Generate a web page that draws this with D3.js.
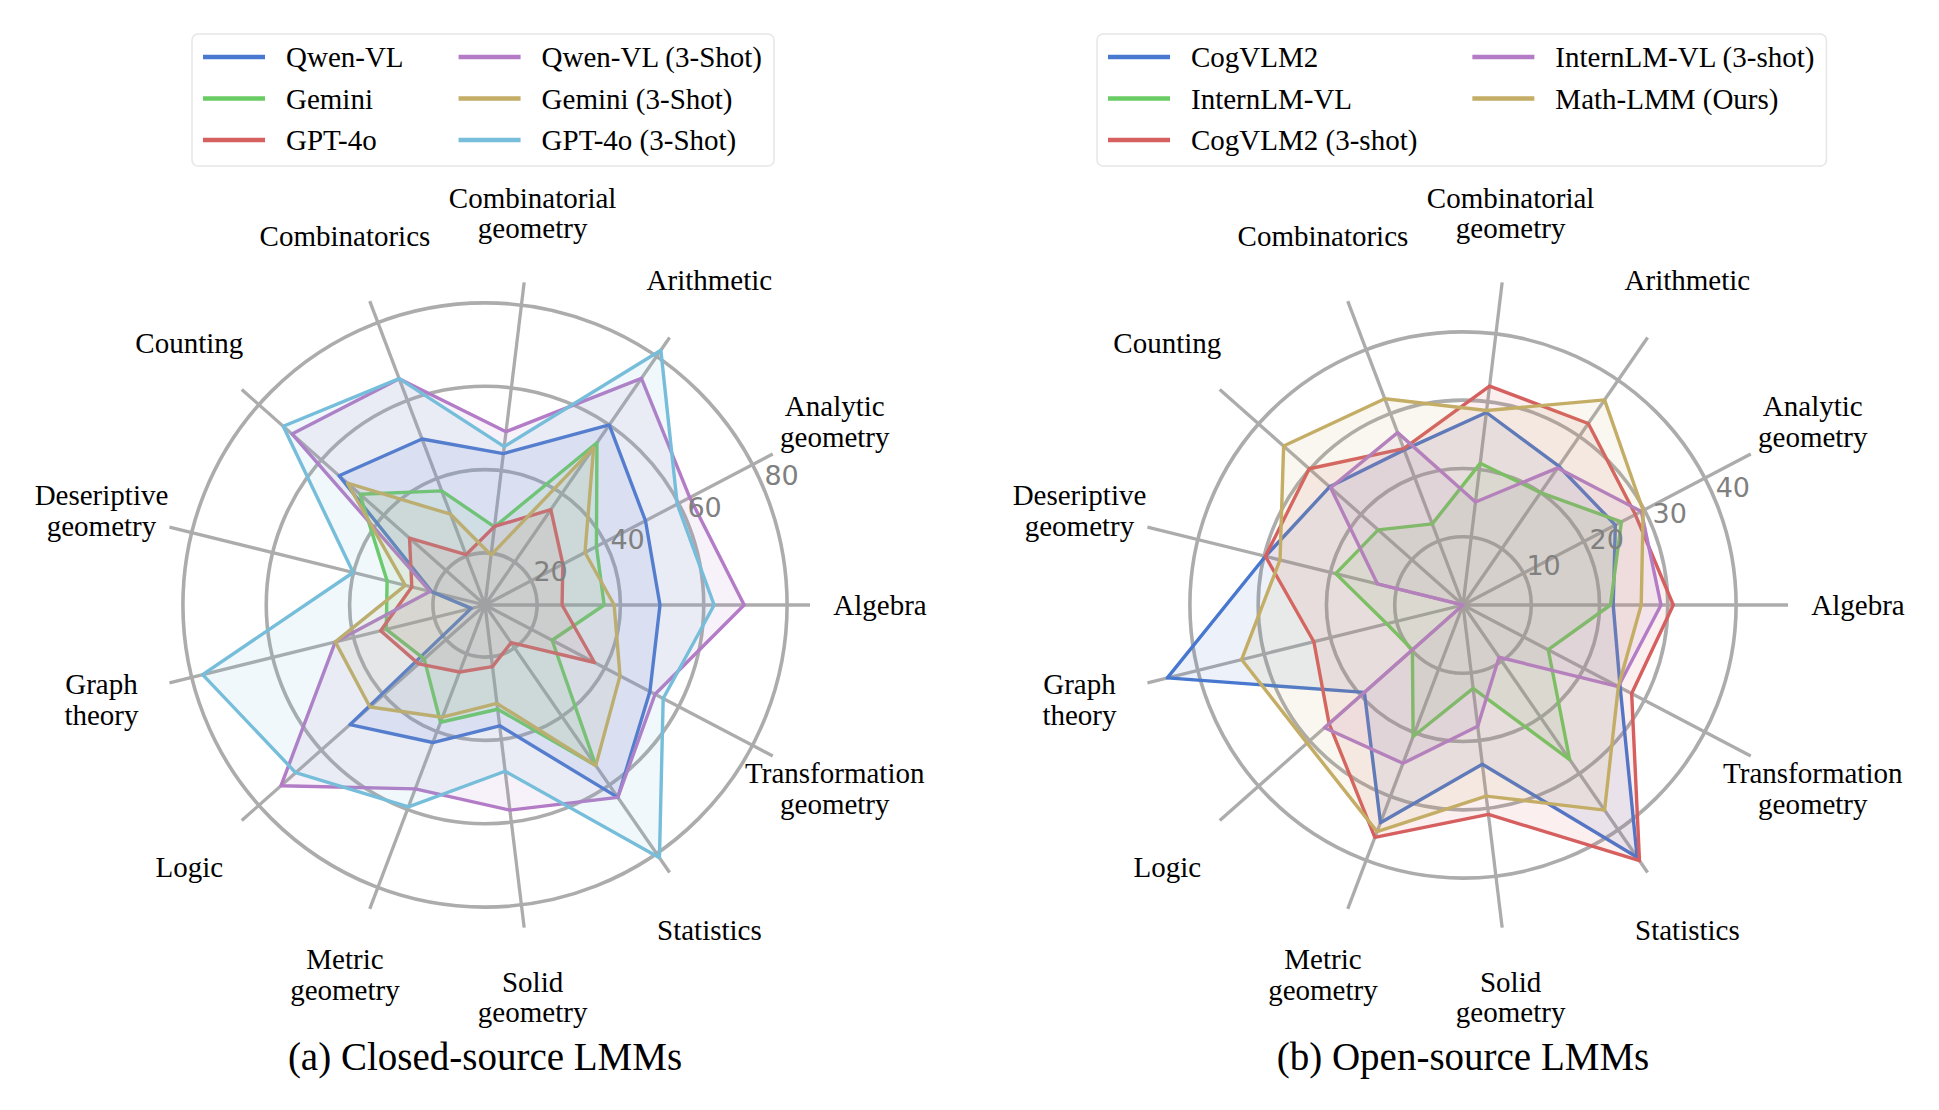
<!DOCTYPE html>
<html>
<head>
<meta charset="utf-8">
<script src="https://cdn.jsdelivr.net/npm/d3@7"></script>
<style>
  body { margin: 0; background: #fff; }
  svg { display: block; font-family: "Liberation Serif", "Times New Roman", serif; }
</style>
</head>
<body>
<svg id="chart" width="1939" height="1110"></svg>
<script>
// axis categories (line breaks as in the figure)
var categories = ["Algebra", "Analytic\ngeometry", "Arithmetic", "Combinatorial\ngeometry",
  "Combinatorics", "Counting", "Deseriptive\ngeometry", "Graph\ntheory", "Logic",
  "Metric\ngeometry", "Solid\ngeometry", "Statistics", "Transformation\ngeometry"];

// (a) closed-source models
var closedModels = ["Qwen-VL", "Gemini", "GPT-4o", "Qwen-VL (3-Shot)", "Gemini (3-Shot)", "GPT-4o (3-Shot)"];
var qwenVL   = [49.5, 51.0, 60.0, 44.1, 50.1, 54.3, 20.6, 10.9, 50.8, 42.8, 36.7, 63.6, 52.2];
var gemini   = [36.1, 37.7, 54.8, 26.4, 36.8, 47.6, 31.7, 31.9, 27.0, 37.6, 32.7, 54.3, 25.7];
var gpt4o    = [26.0, 28.6, 35.3, 26.5, 20.4, 31.7, 25.6, 33.3, 28.8, 24.7, 22.4, 18.5, 37.2];
var qwenVL3  = [69.7, 63.0, 73.6, 49.4, 65.6, 69.4, 21.1, 44.5, 72.9, 54.7, 57.1, 63.6, 53.6];
var gemini3  = [38.5, 34.6, 53.4, 19.6, 30.8, 51.6, 27.2, 44.5, 44.4, 36.3, 31.3, 54.3, 44.1];
var gpt4o3   = [62.5, 59.6, 81.8, 45.8, 65.6, 72.2, 40.1, 77.3, 68.2, 59.3, 47.7, 81.2, 55.8];
var closedTicks = [20, 40, 60, 80];

// (b) open-source models
var openModels = ["CogVLM2", "InternLM-VL", "CogVLM2 (3-shot)", "InternLM-VL (3-shot)", "Math-LMM (Ours)"];
var cogvlm2   = [22.0, 25.2, 24.7, 28.4, 24.3, 26.1, 29.8, 44.6, 19.3, 34.1, 23.5, 44.9, 26.0];
var internlm  = [21.6, 26.2, 20.0, 20.9, 12.7, 16.6, 19.2, 11.5, 9.9, 20.6, 12.3, 27.5, 14.1];
var cogvlm23  = [30.8, 28.5, 32.3, 32.3, 24.5, 30.1, 29.8, 22.5, 26.2, 36.4, 30.9, 45.5, 27.9];
var internlm3 = [29.0, 29.5, 24.4, 15.2, 27.0, 25.9, 12.9, 0.0, 27.1, 24.8, 17.9, 9.3, 25.7];
var mathLMM   = [26.1, 29.8, 36.5, 28.7, 32.3, 35.1, 27.6, 33.4, 30.5, 35.5, 28.2, 36.5, 25.7];
var openTicks = [10, 20, 30, 40];

var palette = ["#4878CF", "#6ACC65", "#D65F5F", "#B47CC7", "#C4AD66", "#77BEDB"];
var gridColor = "#acacac";

var svg = d3.select("#chart");
svg.append("rect").attr("width", 1939).attr("height", 1110).attr("fill", "#fff");

function radar(cx, cy, rDomain, ticks, names, series, caption, legendBox) {
  var n = categories.length,
      R = 325;
  var r = d3.scaleLinear().domain(rDomain).range([0, R]);
  // d3 radial angle: 0 = up, clockwise; categories go counter-clockwise from the right
  var angle = d3.scaleLinear().domain([0, n]).range([Math.PI / 2, Math.PI / 2 - 2 * Math.PI]);

  var g = svg.append("g").attr("transform", "translate(" + cx + "," + cy + ")");

  // rings
  g.selectAll(".ring").data(ticks).enter().append("circle")
      .attr("r", function(d) { return r(d); })
      .attr("fill", "none")
      .attr("stroke", gridColor)
      .attr("stroke-width", 3.6);

  // spokes
  g.selectAll(".spoke").data(categories).enter().append("line")
      .attr("x1", 0).attr("y1", 0)
      .attr("x2", function(d, i) { return R * Math.sin(angle(i)); })
      .attr("y2", function(d, i) { return -R * Math.cos(angle(i)); })
      .attr("stroke", gridColor)
      .attr("stroke-width", 3.3);

  var line = d3.lineRadial()
      .angle(function(d, i) { return angle(i); })
      .radius(function(d) { return r(d); })
      .curve(d3.curveLinearClosed);

  series.forEach(function(vals, k) {
    g.append("path")
        .attr("d", line(vals))
        .attr("fill", "none")
        .attr("stroke", palette[k])
        .attr("stroke-width", 3.4)
        .attr("stroke-linejoin", "round");
    g.append("path")
        .attr("d", line(vals))
        .attr("fill", palette[k])
        .attr("fill-opacity", 0.1);
  });

  // radial tick labels along 22.5 degrees
  var ta = 22.5 * Math.PI / 180;
  g.selectAll(".tick").data(ticks).enter().append("text")
      .attr("x", function(d) { return r(d) * Math.cos(ta) + 17.5; })
      .attr("y", function(d) { return -r(d) * Math.sin(ta) - 13.5; })
      .attr("text-anchor", "middle")
      .attr("dominant-baseline", "central")
      .style("font-family", "'DejaVu Sans', sans-serif")
      .style("font-size", "27px")
      .attr("fill", "#808080")
      .text(function(d) { return d; });

  // category labels
  var lab = g.selectAll(".cat").data(categories).enter().append("text")
      .attr("text-anchor", "middle")
      .style("font-size", "29px")
      .attr("fill", "#000")
      .attr("transform", function(d, i) {
        return "translate(" + (395 * Math.sin(angle(i))) + "," + (-395 * Math.cos(angle(i))) + ")";
      });
  lab.each(function(d) {
    var lines = d.split("\n"), lh = 30.5;
    var t = d3.select(this);
    lines.forEach(function(s, j) {
      t.append("tspan")
          .attr("x", 0)
          .attr("y", (j - (lines.length - 1) / 2) * lh)
          .attr("dominant-baseline", "central")
          .text(s);
    });
  });

  // caption
  svg.append("text")
      .attr("x", cx).attr("y", 1056)
      .attr("text-anchor", "middle")
      .attr("dominant-baseline", "central")
      .style("font-size", "39px")
      .text(caption);

  // legend, 2 columns filled column-wise
  var lg = svg.append("g").attr("transform", "translate(" + legendBox.x + "," + legendBox.y + ")");
  var frame = lg.append("rect")
      .attr("rx", 6).attr("ry", 6)
      .attr("height", 132)
      .attr("fill", "#fff")
      .attr("stroke", "#e6e6e6")
      .attr("stroke-width", 1.5);
  var rows = Math.ceil(names.length / 2),
      handle = 62, gap = 21, colSpace = 55, padL = 11;
  var colX = [padL, 0];
  var items = names.map(function(name, k) {
    var col = Math.floor(k / rows), row = k % rows;
    var it = lg.append("g").attr("class", "item").datum({col: col, row: row});
    it.append("line")
        .attr("x1", 0).attr("x2", handle)
        .attr("y1", 0).attr("y2", 0)
        .attr("stroke", palette[k])
        .attr("stroke-width", 4.5);
    it.append("text")
        .attr("x", handle + gap)
        .attr("dominant-baseline", "central")
        .style("font-size", "29px")
        .text(name);
    return it;
  });
  var maxW = [0, 0];
  items.forEach(function(it) {
    var w = it.select("text").node().getComputedTextLength();
    var c = it.datum().col;
    if (w > maxW[c]) maxW[c] = w;
  });
  colX[1] = padL + handle + gap + maxW[0] + colSpace;
  items.forEach(function(it) {
    var d = it.datum();
    it.attr("transform", "translate(" + colX[d.col] + "," + (23 + d.row * 41.5) + ")");
  });
  frame.attr("width", colX[1] + handle + gap + maxW[1] + 12);
}

radar(485, 605, [7.5, 85.5], closedTicks, closedModels,
      [qwenVL, gemini, gpt4o, qwenVL3, gemini3, gpt4o3],
      "(a) Closed-source LMMs", {x: 192, y: 34});

radar(1463, 605, [0, 47.6], openTicks, openModels,
      [cogvlm2, internlm, cogvlm23, internlm3, mathLMM],
      "(b) Open-source LMMs", {x: 1097, y: 34});
</script>
</body>
</html>
